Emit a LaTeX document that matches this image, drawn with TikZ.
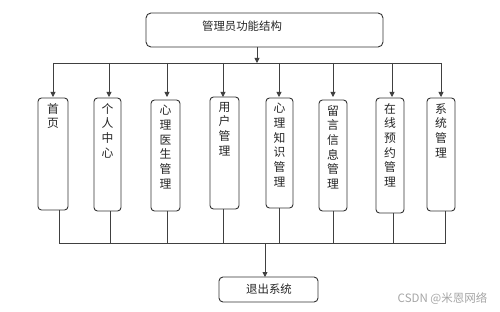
\documentclass[tikz,border=0pt]{standalone}
\usepackage{fontspec}
\newfontfamily\cjk{Noto Sans CJK SC}
\usetikzlibrary{arrows.meta,calc}
\begin{document}
\begin{tikzpicture}[x=1pt,y=-1pt,
  wire/.style={draw=black!75, line width=0.8pt},
  arr/.style={wire, -{Triangle[length=5pt,width=5pt]}},
  vbox/.style={draw=black!80, line width=0.9pt, rounded corners=3.5pt, inner sep=0pt},
  vtext/.style={anchor=north, inner sep=0pt, align=center, font=\cjk\fontsize{11.8}{14.7}\selectfont, text=black!85},
  htext/.style={inner sep=0pt, font=\cjk\fontsize{11.4}{14}\selectfont, text=black!85}]
\useasboundingbox (0,0) rectangle (500,312);
\fill[white] (0,0) rectangle (500,312);
% top box
\draw[vbox, rounded corners=5pt] (146,13) rectangle (383,47);
\coordinate (topS) at (257,47);
\node[htext] (toptxt) at (242,26.5) {管理员功能结构};
\coordinate (busT) at (257,63);
\draw[arr] (topS) -- (busT);
\draw[wire] (53,63) -- (441,63);
% boxes
\def\mkbox#1#2#3#4#5#6{%
  \draw[vbox] (#2,#3) rectangle (#4,#5);
  \coordinate (#1n) at ({(#2+#4)/2},#3);
  \coordinate (#1s) at ({(#2+#4)/2},#5);
  \node[vtext] (#1t) at ({(#2+#4)/2},{#3+5}) {#6};}
\mkbox{a}{38}{98}{68}{210}{首\\页}
\mkbox{b}{94}{98}{121}{211}{个\\人\\中\\心}
\mkbox{c}{151}{100}{180}{211}{心\\理\\医\\生\\管\\理}
\mkbox{d}{210}{97}{239}{209}{用\\户\\管\\理}
\mkbox{e}{266}{98}{293}{208}{心\\理\\知\\识\\管\\理}
\mkbox{f}{319}{100}{347}{211}{留\\言\\信\\息\\管\\理}
\mkbox{g}{376}{98}{404}{213}{在\\线\\预\\约\\管\\理}
\mkbox{h}{427}{98}{455}{211}{系\\统\\管\\理}
% top arrows
\foreach \x/\n in {53/a,109/b,167/c,223/d,279/e,333/f,392/g,441/h}{
  \draw[arr] (\x,63) -- (\x,97);}
% bottom lines
\foreach \x/\n in {59/a,110/b,167/c,223/d,279/e,333/f,393/g,445/h}{
  \coordinate (d\n) at (\x,244);
  \draw[wire] (\n s -| d\n) -- (d\n);}
\draw[wire] (59,243) -- (445,243);
% exit
\coordinate (busB) at (265,243);
\draw[vbox, rounded corners=4pt] (219,277) rectangle (318,302);
\coordinate (exitN) at (265,277);
\node[htext] (exit) at (269,289.5) {退出系统};
\draw[arr] (busB) -- (exitN);
% watermark
\node[inner sep=0pt, text=black!35, font=\fontsize{11.5}{11.5}\selectfont\cjk] (wm) at (442.5,299) {CSDN @米恩网络};
\end{tikzpicture}
\end{document}
